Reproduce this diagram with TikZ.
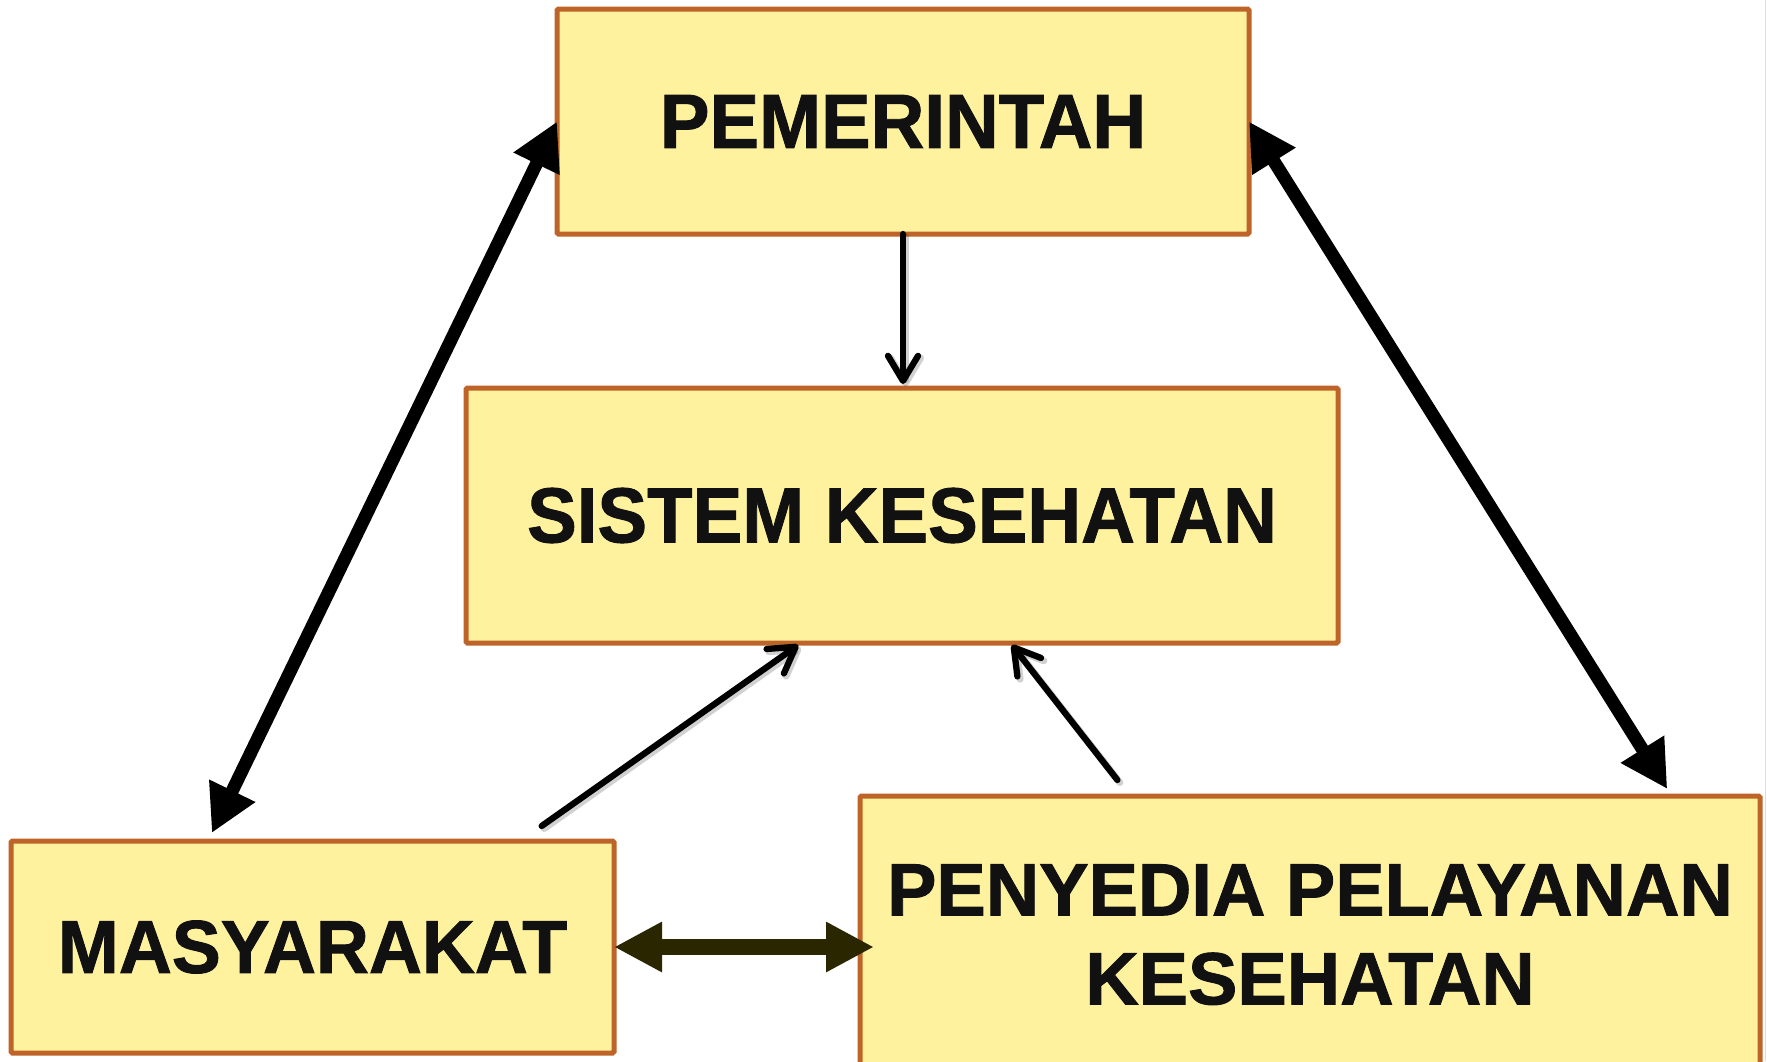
\documentclass[tikz,border=0pt]{standalone}
\usepackage{fontspec}
\usepackage{graphicx}
\setmainfont{Liberation Sans}[BoldFeatures={FakeBold=1.2}]
\usetikzlibrary{arrows.meta,calc}
\definecolor{boxfill}{RGB}{255,242,158}
\definecolor{boxline}{RGB}{190,100,40}
\definecolor{darkolive}{RGB}{42,38,0}
\definecolor{txt}{RGB}{17,17,17}
\definecolor{edgeline}{RGB}{236,216,206}
\begin{document}
\begin{tikzpicture}[x=1pt,y=-1pt,
  box/.style={draw=boxline, fill=boxfill, line width=5pt, rounded corners=1.5pt,
    inner sep=0pt, outer sep=0pt, text=txt, font=\bfseries},
  bigarrow/.style={line width=13pt, draw=black,
    {Triangle[length=47pt,width=48pt]}-{Triangle[length=47pt,width=48pt]}},
  flowarrow/.style={line width=6.3pt, draw=black, line cap=round,
    -{Straight Barb[length=25pt,width=30pt,round]}},
  flowshadow/.style={line width=7pt, draw=black, opacity=0.18, line cap=round,
    transform canvas={shift={(2.5pt,-2.5pt)}},
    -{Straight Barb[length=25pt,width=30pt,round]}},
  linkarrow/.style={line width=16pt, draw=darkolive,
    {Triangle[length=48pt,width=47pt]}-{Triangle[length=48pt,width=47pt]}}]
\useasboundingbox (0,0) rectangle (1767,1061);
\clip (0,0) rectangle (1767,1061);
\fill[white] (0,0) rectangle (1767,1061);
\draw[edgeline, line width=1.5pt] (1765.5,0) -- (1765.5,1061);

\node[box, minimum width=692pt, minimum height=225pt] (pem) at (903,121.5)
  {\fontsize{77}{92}\selectfont\scalebox{0.966}[1]{PEMERINTAH}};
\node[box, minimum width=872pt, minimum height=255pt] (sis) at (902,515.5)
  {\fontsize{78}{92}\selectfont\scalebox{0.954}[1]{SISTEM KESEHATAN}};
\node[box, minimum width=603pt, minimum height=212pt] (mas) at (312.5,947)
  {\fontsize{75}{90}\selectfont\scalebox{0.978}[1]{MASYARAKAT}};
\node[box, minimum width=900pt, minimum height=292pt] (pen) at (1310,942)
  {\fontsize{74}{89}\selectfont\scalebox{1.0}[1]{\begin{tabular}{@{}c@{}}PENYEDIA PELAYANAN\\KESEHATAN\end{tabular}}};

\coordinate (sisTop) at ([yshift=4pt]sis.north);
\coordinate (masA) at ([yshift=8pt]$(mas.north west)!0.333!(mas.north east)$);
\coordinate (masB) at ([yshift=15pt]$(mas.north west)!0.88!(mas.north east)$);
\coordinate (penA) at ([yshift=7pt]$(pen.north west)!0.897!(pen.north east)$);
\coordinate (penB) at ([yshift=16pt]$(pen.north west)!0.286!(pen.north east)$);
\coordinate (sisA) at ([yshift=-2pt]$(sis.south west)!0.381!(sis.south east)$);
\coordinate (sisB) at ([yshift=-2pt]$(sis.south west)!0.626!(sis.south east)$);
\coordinate (penIn) at ([xshift=14pt]pen.west);

% thick two-way arrows
\draw[bigarrow] (pem.west) -- (masA);
\draw[bigarrow] (pem.east) -- (penA);

% thin flow arrows into the health system
\draw[flowshadow] (pem.south) -- (pem.south |- sisTop);
\draw[flowarrow] (pem.south) -- (pem.south |- sisTop);
\draw[flowshadow] (masB) -- (sisA);
\draw[flowarrow] (masB) -- (sisA);
\draw[flowshadow] (penB) -- (sisB);
\draw[flowarrow] (penB) -- (sisB);

% link between community and providers
\draw[linkarrow] (mas.east) -- (mas.east -| penIn);
\end{tikzpicture}
\end{document}
